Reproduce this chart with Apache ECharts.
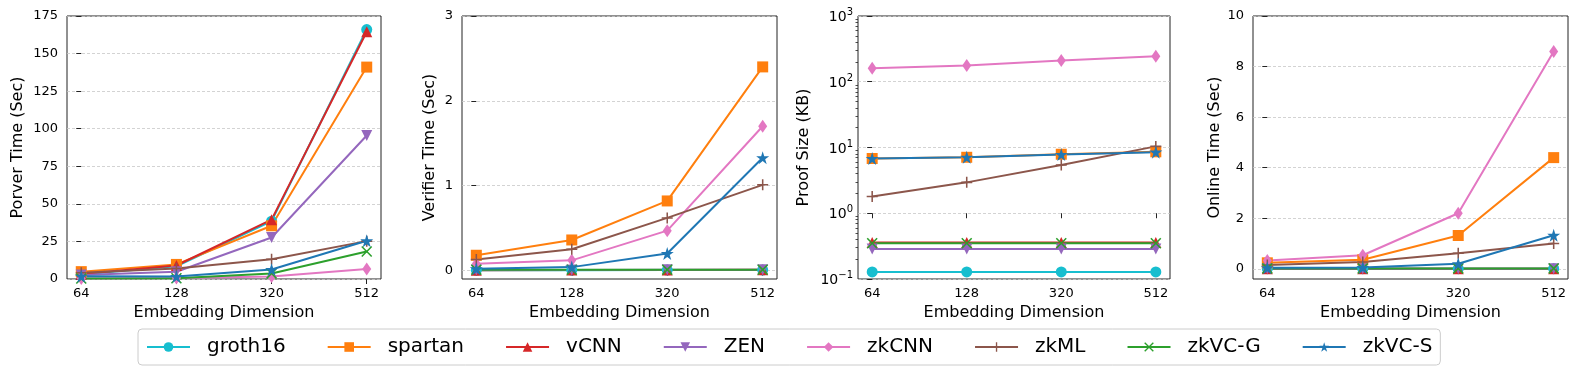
<!DOCTYPE html>
<html>
<head>
<meta charset="utf-8">
<script src="https://cdn.jsdelivr.net/npm/echarts@6/dist/echarts.min.js"></script>
<style>
  html, body { margin: 0; padding: 0; background: #fff; }
  #main { width: 1578px; height: 376px; }
</style>
</head>
<body>
<div id="main"></div>
<script>
var dims = ['64', '128', '320', '512'];
var methods = ['groth16', 'spartan', 'vCNN', 'ZEN', 'zkCNN', 'zkML', 'zkVC-G', 'zkVC-S'];

// one row per method, same order as methods
var proverTime = [
    [3.0, 8.5, 38.5, 166],     // groth16
    [4.9, 9.7, 35.4, 141],     // spartan
    [3.4, 9.0, 39.5, 164.5],   // vCNN
    [2.6, 4.8, 27.6, 95.5],    // ZEN
    [0.4, 0.6, 1.6, 6.6],      // zkCNN
    [4.2, 7.0, 13.2, 25.2],    // zkML
    [0.3, 0.5, 3.7, 18.3],     // zkVC-G
    [1.8, 1.6, 6.3, 25.4]      // zkVC-S
];
var verifierTime = [
    [0.003, 0.004, 0.005, 0.006],
    [0.18, 0.36, 0.82, 2.40],
    [0.004, 0.005, 0.006, 0.008],
    [0.005, 0.006, 0.008, 0.01],
    [0.08, 0.12, 0.47, 1.70],
    [0.13, 0.25, 0.62, 1.01],
    [0.01, 0.01, 0.01, 0.01],
    [0.02, 0.04, 0.20, 1.33]
];
var proofSize = [
    [0.128, 0.128, 0.128, 0.128],
    [6.8, 7.1, 7.9, 8.6],
    [0.36, 0.36, 0.36, 0.36],
    [0.285, 0.285, 0.285, 0.285],
    [160, 177, 210, 245],
    [1.8, 2.95, 5.4, 10.4],
    [0.35, 0.35, 0.35, 0.35],
    [6.8, 7.1, 7.8, 8.5]
];
var onlineTime = [
    [0.01, 0.01, 0.01, 0.01],
    [0.24, 0.36, 1.32, 4.4],
    [0.01, 0.01, 0.01, 0.01],
    [0.01, 0.01, 0.01, 0.01],
    [0.33, 0.54, 2.2, 8.6],
    [0.15, 0.27, 0.62, 1.0],
    [0.02, 0.02, 0.02, 0.02],
    [0.04, 0.05, 0.2, 1.33]
];
var yTicksVerifier = [0, 1, 2, 3];
var yTicksOnline = [0, 2, 4, 6, 8, 10];

// matplotlib tab10 look
var colors = ['#17becf', '#ff7f0e', '#d62728', '#9467bd', '#e377c2', '#8c564b', '#2ca02c', '#1f77b4'];
var symbols = [
    'circle',
    'rect',
    'triangle',
    'path://M0,0 L10,0 L5,10 Z',
    'diamond',
    'path://M4.3,0 H5.7 V4.3 H10 V5.7 H5.7 V10 H4.3 V5.7 H0 V4.3 H4.3 Z',
    'path://M0,1 L1,0 L5,4 L9,0 L10,1 L6,5 L10,9 L9,10 L5,6 L1,10 L0,9 L4,5 Z',
    'path://M5,0 L6.18,3.62 L10,3.62 L6.91,5.86 L8.09,9.5 L5,7.24 L1.91,9.5 L3.09,5.86 L0,3.62 L3.82,3.62 Z'
];
var symbolSizes = [11, 11, 11, 11, [9, 13], 11, 11, 13];

var font = 'DejaVu Sans';
var lefts = [67, 462, 858, 1253];
var widths = [314, 315, 312, 315];
var yNames = ['Porver Time (Sec)', 'Verifier Time (Sec)', 'Proof Size (KB)', 'Online Time (Sec)'];
var nameGaps = [41, 24, 46, 30];
var panels = [proverTime, verifierTime, proofSize, onlineTime];

var gridLine = { show: true, lineStyle: { color: '#c8c8c8', width: 0.8, type: [3, 2] } };
var tickStyle = { length: 5, lineStyle: { color: '#222', width: 1 } };
var labelStyle = { fontSize: 13, color: '#000', fontFamily: font };

var grids = [], xAxes = [], yAxes = [], series = [];

for (var p = 0; p < 4; p++) {
    grids.push({
        left: lefts[p], top: 16, width: widths[p], height: 263,
        show: true, borderColor: '#222', borderWidth: 1
    });
    xAxes.push({
        gridIndex: p, type: 'value', min: -0.15, max: 3.15,
        name: 'Embedding Dimension', nameLocation: 'middle', nameGap: 26,
        nameTextStyle: { fontSize: 16, color: '#000', fontFamily: font },
        axisLine: { show: false },
        axisTick: Object.assign({ customValues: [0, 1, 2, 3] }, tickStyle),
        axisLabel: Object.assign({
            customValues: [0, 1, 2, 3], margin: 8,
            formatter: function (v) { return dims[Math.round(v)]; }
        }, labelStyle),
        splitLine: { show: false }
    });
}

// y axes
var yBase = function (p) {
    return {
        gridIndex: p, position: 'left',
        name: yNames[p], nameLocation: 'middle', nameGap: nameGaps[p],
        nameTextStyle: { fontSize: 16, color: '#000', fontFamily: font },
        axisLine: { show: false },
        axisTick: Object.assign({}, tickStyle),
        axisLabel: Object.assign({ margin: 9 }, labelStyle),
        splitLine: gridLine
    };
};
var y0 = yBase(0);
y0.type = 'value'; y0.min = 0; y0.max = 175; y0.interval = 25;
var y1 = yBase(1);
y1.type = 'value'; y1.min = -0.1; y1.max = 3;
y1.axisTick.customValues = yTicksVerifier;
y1.axisLabel.customValues = yTicksVerifier;
var y2 = yBase(2);
y2.type = 'log'; y2.logBase = 10; y2.min = 0.1; y2.max = 1000;
y2.axisLabel = {
    margin: 5, fontFamily: font, color: '#000',
    formatter: function (v) {
        var e = Math.round(Math.log10(v));
        return '{b|10}{s|' + (e < 0 ? '\u2212' + (-e) : e) + '}';
    },
    rich: {
        b: { fontSize: 14, fontFamily: font, color: '#000', verticalAlign: 'bottom' },
        s: { fontSize: 10, fontFamily: font, color: '#000', verticalAlign: 'bottom', padding: [0, 0, 7, 0] }
    }
};
var y3 = yBase(3);
y3.type = 'value'; y3.min = -0.4; y3.max = 10;
y3.axisTick.customValues = yTicksOnline;
y3.axisLabel.customValues = yTicksOnline;

// minor ticks of the log axis (decade units)
var minor = [];
for (var d = -1; d < 3; d++) {
    for (var k = 2; k < 10; k++) minor.push(d + Math.log10(k));
}
var y4 = {
    gridIndex: 2, position: 'left', type: 'value', min: -1, max: 3,
    axisLine: { show: false }, axisLabel: { show: false }, splitLine: { show: false },
    axisTick: { customValues: minor, length: 2.5, lineStyle: { color: '#222', width: 0.8 } }
};
yAxes = [y0, y1, y2, y3, y4];

for (var p = 0; p < 4; p++) {
    for (var m = 0; m < methods.length; m++) {
        series.push({
            name: methods[m], type: 'line',
            xAxisIndex: p, yAxisIndex: p,
            data: panels[p][m].map(function (v, i) { return [i, v]; }),
            symbol: symbols[m], symbolSize: symbolSizes[m],
            itemStyle: { color: colors[m] },
            lineStyle: { color: colors[m], width: 2 },
            emphasis: { disabled: true }
        });
    }
}

var myChart = echarts.init(document.getElementById('main'));
myChart.setOption({
    animation: false,
    textStyle: { fontFamily: font },
    grid: grids,
    xAxis: xAxes,
    yAxis: yAxes,
    legend: {
        data: methods, left: 138, top: 329,
        itemWidth: 43, itemHeight: 12, itemGap: 41,
        padding: [8, 8], borderColor: '#ccc', borderWidth: 1, borderRadius: 4,
        selectedMode: false,
        textStyle: { fontSize: 20, color: '#000', fontFamily: font, padding: [0, 0, 0, 12] }
    },
    series: series
});
</script>
</body>
</html>
